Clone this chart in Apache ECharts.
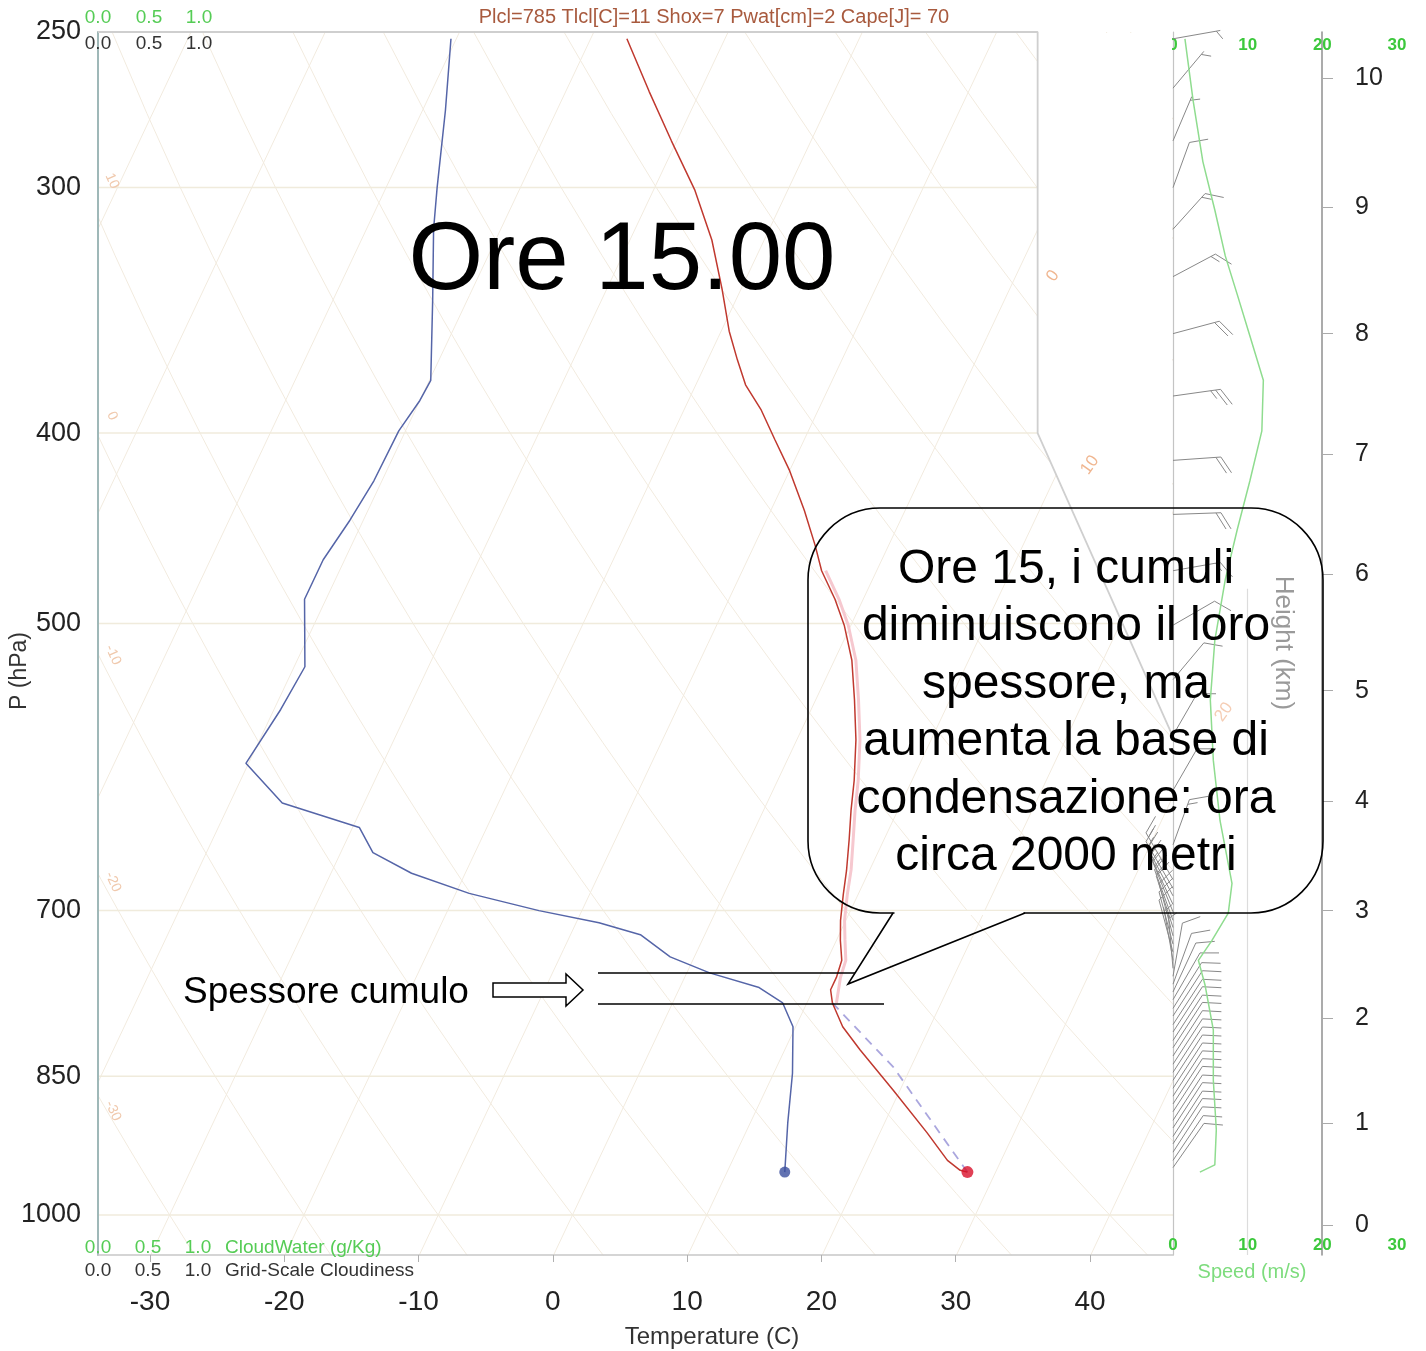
<!DOCTYPE html>
<html><head><meta charset="utf-8">
<script src="https://cdn.jsdelivr.net/npm/echarts@6/dist/echarts.min.js"></script>
<style>html,body{margin:0;padding:0;background:#fff}#c{width:1426px;height:1351px}</style>
</head><body><div id="c"></div>
<script>
// ---------------- data ----------------
const pressureTicks = [250, 300, 400, 500, 700, 850, 1000];
const tempTicks = [-30, -20, -10, 0, 10, 20, 30, 40];
const speedTicks = [0, 10, 20, 30];
const heightKm = [0, 1, 2, 3, 4, 5, 6, 7, 8, 9, 10];
const heightHPa = [1012, 898, 794, 700, 616, 541, 472, 410, 356, 307, 264];

// temperature profile (hPa, degC)
const tempP = [252, 268, 284, 301, 319, 338, 355, 367, 378, 389, 403, 418, 438, 456, 470, 486, 501, 522, 547, 573, 601, 622, 644, 668, 687, 708, 725, 742, 757, 768, 780, 802, 824, 864, 908, 938, 949, 951];
const tempC = [-37.3, -33.8, -30.4, -26.9, -23.9, -21.4, -19.4, -17.8, -16.3, -14.3, -12.2, -10.0, -7.5, -5.5, -4.1, -2.1, -0.5, 1.3, 2.9, 4.4, 5.7, 6.5, 7.4, 8.3, 8.9, 9.6, 10.3, 11.1, 11.3, 11.3, 11.9, 13.5, 15.6, 19.5, 23.5, 26.0, 27.3, 27.9];

// dew point profile
const dewP = [252, 274, 300, 315, 342, 376, 385, 399, 423, 443, 464, 486, 526, 553, 589, 617, 635, 654, 670, 686, 700, 710, 720, 739, 753, 766, 780, 802, 847, 898, 951];
const dewC = [-50.4, -48.3, -46.2, -45.0, -42.6, -39.9, -40.0, -40.5, -40.6, -41.0, -41.6, -41.6, -39.2, -39.5, -40.2, -36.1, -29.5, -27.6, -24.0, -19.0, -13.2, -8.3, -4.8, -1.8, 1.7, 5.9, 8.2, 9.8, 11.4, 12.8, 14.3];

// parcel path
const parcelDryP = [951, 841, 780];
const parcelDryC = [27.9, 18.7, 11.9];
const parcelMoistP = [780, 757, 742, 724, 708, 687, 667, 644, 622, 601, 573, 547, 522, 501, 486, 470];
const parcelMoistC = [12.2, 11.6, 11.4, 10.6, 9.9, 9.2, 8.6, 7.7, 6.8, 6.0, 4.7, 3.2, 1.6, -0.2, -1.8, -3.8];

// wind speed profile (m/s)
const speedP = [252, 271, 291, 308, 325, 340, 357, 376, 399, 423, 448, 475, 510, 547, 587, 630, 678, 702, 725, 742, 764, 805, 854, 905, 943, 951];
const speedMs = [1.6, 2.7, 4.0, 5.6, 7.0, 8.6, 10.3, 12.1, 11.9, 10.3, 8.6, 7.0, 5.6, 5.0, 5.4, 6.3, 7.9, 7.4, 5.2, 3.4, 4.3, 5.4, 5.4, 5.8, 5.6, 3.6];

// wind barbs (hPa, direction deg, speed m/s)
const barbP = [252, 267, 284, 300, 315, 333, 356, 383, 413, 440, 470, 501, 534, 570, 608, 648,
  675, 682, 688, 695, 701, 708, 714, 721, 728, 735, 742, 749, 756, 763,
  770, 777, 785, 792, 800, 807, 815, 822, 830, 838, 846, 854, 862, 870, 878, 886, 895, 903, 912, 920, 929, 938, 946];
const barbDir = [80, 40, 23, 20, 42, 62, 75, 82, 86, 88, 80, 60, 40, 30, 30, 20,
  330, 330, 332, 335, 338, 340, 342, 345, 345, 345, 350, 355, 10, 20,
  25, 30, 32, 33, 33, 33, 33, 33, 33, 33, 33, 33, 33, 33, 33, 33, 33, 33, 33, 33, 33, 34, 35];
const barbSpd = [2, 2.7, 3.5, 5, 6.5, 8.2, 10.3, 12, 11.5, 9.5, 7, 6, 5, 5, 6, 7,
  7.9, 7.9, 7.8, 7.6, 7.4, 7.0, 6.4, 5.6, 5.0, 4.3, 3.4, 3.6, 4.0, 4.3,
  5.0, 5.2, 5.4, 5.4, 5.4, 5.4, 5.4, 5.4, 5.4, 5.4, 5.5, 5.6, 5.6, 5.6, 5.7, 5.8, 5.8, 5.8, 5.7, 5.6, 5.6, 5.5, 5.0];

// diagram frame (skewed x units, hPa) and guide lines
const frameX = [-33.87, 36.1, 36.1, 46.18];
const frameP = [250, 250, 400, 571];
const isobarP = [300, 400, 500, 700, 850, 1000];
const isothermT = [-110, -100, -90, -80, -70, -60, -50, -40, -30, -20, -10, 0, 10, 20, 30, 40];
const adiabatTheta = [-40, -30, -20, -10, 0, 10, 20, 30, 40, 50, 60, 70, 80, 90, 100, 110, 120, 130, 140, 150];

// ---------------- skew-T mapping ----------------
const SKEW = 30, P_REF = 1050, P_TOP = 250, P_BOT = 1048, X_MIN = -33.87, X_MAX = 46.18;
const sx = (t, p) => t + SKEW * Math.log(P_REF / p);
const pairs = (P, T) => P.map((p, i) => [sx(T[i], p), p]);
const FONT = '"Liberation Sans", Arial, Helvetica, sans-serif';

function frameRightX(p) {
  if (p <= 400) return 36.1;
  if (p >= 571) return X_MAX;
  const f = Math.log(p / 400) / Math.log(571 / 400);
  return 36.1 + f * (X_MAX - 36.1);
}

const guideLines = [];
isothermT.forEach(t => guideLines.push({coords: [[sx(t, P_BOT), P_BOT], [sx(t, P_TOP), P_TOP]]}));
const adiabatLevels = [];
for (let p = 1050; p >= 250; p -= 25) adiabatLevels.push(p);
adiabatTheta.forEach(th => {
  guideLines.push({coords: adiabatLevels.map(p => [sx((th + 273.15) * Math.pow(p / 1000, 0.2857) - 273.15, p), p])});
});
const isobarLines = isobarP.map(p => ({coords: [[X_MIN, p], [frameRightX(p), p]]}));

const chart = echarts.init(document.getElementById('c'), null, {renderer: 'canvas'});

const txt = (x, y, text, size, color, align, extra) => Object.assign({
  type: 'text', x: x, y: y, z: 20, silent: true,
  style: {text: text, font: size + 'px ' + FONT, fill: color, align: align || 'center', textAlign: align || 'center', verticalAlign: 'middle', textVerticalAlign: 'middle'}
}, extra || {});

const option = {
  animation: false,
  backgroundColor: '#ffffff',
  textStyle: {fontFamily: FONT},
  grid: [
    {left: 98, right: 253, top: 32, bottom: 96, outerBoundsMode: 'none', containLabel: false},
    {left: 1173, right: 29, top: 32, bottom: 96, outerBoundsMode: 'none', containLabel: false}
  ],
  xAxis: [
    {type: 'value', gridIndex: 0, min: X_MIN, max: X_MAX, position: 'bottom',
      axisLine: {show: true, onZero: false, lineStyle: {color: '#c8c8c8', width: 1.5}},
      axisTick: {show: true, customValues: tempTicks, length: 7, lineStyle: {color: '#b0b0b0'}},
      axisLabel: {customValues: tempTicks, fontSize: 28, color: '#222', margin: 33, formatter: v => String(Math.round(v))},
      splitLine: {show: false},
      name: 'Temperature (C)', nameLocation: 'middle', nameGap: 70,
      nameTextStyle: {fontSize: 24, color: '#333', padding: [0, 0, 0, 153]}},
    {type: 'value', gridIndex: 1, min: 0, max: 30, position: 'bottom',
      axisLine: {show: false, onZero: false}, axisTick: {show: false},
      axisLabel: {customValues: speedTicks, inside: true, margin: 1, fontSize: 17, fontWeight: 'bold', color: '#3cc83c'},
      splitLine: {show: false},
      name: 'Speed (m/s)', nameLocation: 'middle', nameGap: 7,
      nameTextStyle: {fontSize: 20, color: '#7ddc7d', padding: [0, 66, 0, 0]}},
    {type: 'value', gridIndex: 1, min: 0, max: 30, position: 'top',
      axisLine: {show: false, onZero: false}, axisTick: {show: false},
      axisLabel: {customValues: speedTicks, inside: true, margin: 5, fontSize: 17, fontWeight: 'bold', color: '#3cc83c'},
      splitLine: {show: false}}
  ],
  yAxis: [
    {type: 'log', gridIndex: 0, inverse: true, min: P_TOP, max: P_BOT, logBase: 10, position: 'left',
      axisLine: {show: true, onZero: false, lineStyle: {color: '#9fb8b8', width: 2}},
      axisTick: {show: false},
      axisLabel: {customValues: pressureTicks, fontSize: 27, color: '#222', margin: 17, showMinLabel: true, showMaxLabel: true, formatter: v => String(Math.round(v))},
      splitLine: {show: false}},
    {type: 'log', gridIndex: 1, inverse: true, min: P_TOP, max: P_BOT, logBase: 10, position: 'left',
      axisLine: {show: true, onZero: false, lineStyle: {color: '#c4c4c4', width: 1.2}},
      axisTick: {show: false}, axisLabel: {show: false}, splitLine: {show: false}},
    {type: 'log', gridIndex: 1, inverse: true, min: P_TOP, max: P_BOT, logBase: 10, position: 'right', offset: -75,
      axisLine: {show: true, onZero: false, lineStyle: {color: '#8f8f8f', width: 1.5}},
      axisTick: {show: true, inside: false, customValues: heightHPa, length: 11, lineStyle: {color: '#aaa'}},
      axisLabel: {customValues: heightHPa, fontSize: 25, color: '#222', margin: 33,
        formatter: v => {
          let best = 0;
          heightHPa.forEach((h, i) => { if (Math.abs(h - v) < Math.abs(heightHPa[best] - v)) best = i; });
          return String(heightKm[best]);
        }},
      splitLine: {show: false}}
  ],
  series: [
    {type: 'lines', name: 'guides', coordinateSystem: 'cartesian2d', xAxisIndex: 0, yAxisIndex: 0, polyline: true, silent: true, z: 0, clip: true,
      lineStyle: {color: '#f2ebdf', width: 1, opacity: 1}, data: guideLines},
    {type: 'lines', name: 'isobars', coordinateSystem: 'cartesian2d', xAxisIndex: 0, yAxisIndex: 0, polyline: true, silent: true, z: 0, clip: true,
      lineStyle: {color: '#f0ebdc', width: 1.5, opacity: 1}, data: isobarLines},
    {type: 'line', name: 'frame', xAxisIndex: 0, yAxisIndex: 0, silent: true, z: 2, symbol: 'none',
      lineStyle: {color: '#cfcfcf', width: 1.8}, data: frameP.map((p, i) => [frameX[i], p])},
    {type: 'line', name: 'parcel moist', xAxisIndex: 0, yAxisIndex: 0, silent: true, z: 3, symbol: 'none', smooth: false,
      lineStyle: {color: '#f6c8cf', width: 3}, data: pairs(parcelMoistP, parcelMoistC)},
    {type: 'line', name: 'parcel dry', xAxisIndex: 0, yAxisIndex: 0, silent: true, z: 3, symbol: 'none',
      lineStyle: {color: '#aaa6de', width: 1.8, type: [9, 7]}, data: pairs(parcelDryP, parcelDryC)},
    {type: 'line', name: 'dew point', xAxisIndex: 0, yAxisIndex: 0, silent: true, z: 4, symbol: 'none',
      lineStyle: {color: '#5565a8', width: 1.5}, data: pairs(dewP, dewC)},
    {type: 'line', name: 'temperature', xAxisIndex: 0, yAxisIndex: 0, silent: true, z: 4, symbol: 'none',
      lineStyle: {color: '#c0392f', width: 1.5}, data: pairs(tempP, tempC)},
    {type: 'scatter', name: 'surface T', xAxisIndex: 0, yAxisIndex: 0, z: 5, symbolSize: 12, itemStyle: {color: '#d8102a'},
      data: [[sx(tempC[tempC.length - 1], tempP[tempP.length - 1]), tempP[tempP.length - 1]]]},
    {type: 'scatter', name: 'surface Td', xAxisIndex: 0, yAxisIndex: 0, z: 5, symbolSize: 11, itemStyle: {color: '#3b4f9e'},
      data: [[sx(dewC[dewC.length - 1], dewP[dewP.length - 1]), dewP[dewP.length - 1]]]},
    {type: 'lines', name: 'speed10', coordinateSystem: 'cartesian2d', xAxisIndex: 1, yAxisIndex: 1, silent: true, z: 1,
      lineStyle: {color: '#dcdcdc', width: 1.2, opacity: 1}, data: [{coords: [[10, 480], [10, P_BOT]]}]},
    {type: 'line', name: 'wind speed', xAxisIndex: 1, yAxisIndex: 1, silent: true, z: 3, symbol: 'none',
      lineStyle: {color: '#8fdc8f', width: 1.5}, data: speedP.map((p, i) => [speedMs[i], p])},
    {type: 'custom', name: 'barbs', xAxisIndex: 1, yAxisIndex: 1, silent: true, z: 3, clip: false,
      encode: {x: 0, y: 1},
      data: barbP.map((p, i) => [barbSpd[i], p, barbDir[i]]),
      renderItem: function (params, api) {
        const spd = api.value(0), p = api.value(1), dir = api.value(2);
        const base = api.coord([0, p]);
        const L = p > 660 ? 54 : 48, r = dir * Math.PI / 180;
        const ux = Math.sin(r), uy = -Math.cos(r);
        const tip = [base[0] + ux * L, base[1] + uy * L];
        const fr = (dir + 60) * Math.PI / 180, fx = Math.sin(fr), fy = -Math.cos(fr);
        const st = {stroke: '#888', lineWidth: 1};
        const children = [{type: 'line', shape: {x1: base[0], y1: base[1], x2: tip[0], y2: tip[1]}, style: st}];
        let kt = Math.round(spd * 1.944 / 5) * 5, d = 0;
        while (kt >= 10) {
          const a = [tip[0] - ux * d, tip[1] - uy * d];
          children.push({type: 'line', shape: {x1: a[0], y1: a[1], x2: a[0] + fx * 19, y2: a[1] + fy * 19}, style: st});
          d += 5; kt -= 10;
        }
        if (kt >= 5) {
          if (d === 0) d = 4;
          const a = [tip[0] - ux * d, tip[1] - uy * d];
          children.push({type: 'line', shape: {x1: a[0], y1: a[1], x2: a[0] + fx * 10, y2: a[1] + fy * 10}, style: st});
        }
        return {type: 'group', children: children};
      }}
  ],
  graphic: {elements: [
    {type: 'polygon', z: 1, silent: true, shape: {points: [[1038, 33], [1172, 33], [1172, 737], [1038, 433]]}, style: {fill: '#ffffff'}},
    // faint guide labels
    txt(112, 181, '10', 14, '#f0c9ad', 'center', {rotation: -1.15}),
    txt(112, 416, '0', 14, '#f0c9ad', 'center', {rotation: -1.15}),
    txt(113, 655, '-10', 14, '#f0c9ad', 'center', {rotation: -1.15}),
    txt(113, 882, '-20', 14, '#f0c9ad', 'center', {rotation: -1.15}),
    txt(113, 1111, '-30', 14, '#f0c9ad', 'center', {rotation: -1.15}),
    txt(1053, 276, '0', 17, '#f0b690', 'center', {rotation: 0.95}),
    txt(1090, 465, '10', 17, '#f0b690', 'center', {rotation: 0.95}),
    txt(1224, 712, '20', 17, '#f5cdb4', 'center', {rotation: 0.95}),
    // pressure axis title
    txt(20, 671, 'P (hPa)', 23, '#333', 'center', {rotation: Math.PI / 2}),
    // header diagnostics
    txt(714, 17, 'Plcl=785 Tlcl[C]=11 Shox=7 Pwat[cm]=2 Cape[J]= 70', 20, '#a85a3e'),
    // cloud scales
    txt(98, 18, '0.0', 19, '#55cc55'), txt(149, 18, '0.5', 19, '#55cc55'), txt(199, 18, '1.0', 19, '#55cc55'),
    txt(98, 44, '0.0', 19, '#333'), txt(149, 44, '0.5', 19, '#333'), txt(199, 44, '1.0', 19, '#333'),
    txt(98, 1248, '0.0', 19, '#55cc55'), txt(148, 1248, '0.5', 19, '#55cc55'), txt(198, 1248, '1.0', 19, '#55cc55'),
    txt(225, 1248, 'CloudWater (g/Kg)', 19, '#55cc55', 'left'),
    txt(98, 1271, '0.0', 19, '#333'), txt(148, 1271, '0.5', 19, '#333'), txt(198, 1271, '1.0', 19, '#333'),
    txt(225, 1271, 'Grid-Scale Cloudiness', 19, '#333', 'left'),
    txt(1283, 643, 'Height (km)', 26, '#9a9a9a', 'center', {rotation: -Math.PI / 2}),
    // annotations
    txt(622, 263, 'Ore 15.00', 96, '#000'),
    {type: 'rect', z: 20, silent: true, shape: {x: 808, y: 508, width: 515, height: 405, r: 72},
      style: {fill: null, stroke: '#000', lineWidth: 1.6}},
    {type: 'line', z: 21, silent: true, shape: {x1: 894.5, y1: 913, x2: 1023.5, y2: 913}, style: {stroke: '#fff', lineWidth: 4}},
    {type: 'polyline', z: 21, silent: true, shape: {points: [[893, 913], [848, 984], [1025, 913]]},
      style: {fill: null, stroke: '#000', lineWidth: 1.6}},
    txt(1066, 570, 'Ore 15, i cumuli', 48, '#000'),
    txt(1066, 627, 'diminuiscono il loro', 48, '#000'),
    txt(1066, 685, 'spessore, ma', 48, '#000'),
    txt(1066, 742, 'aumenta la base di', 48, '#000'),
    txt(1066, 800, 'condensazione: ora', 48, '#000'),
    txt(1066, 857, 'circa 2000 metri', 48, '#000'),
    txt(326, 993, 'Spessore cumulo', 37, '#000'),
    {type: 'polygon', z: 20, silent: true,
      shape: {points: [[493, 983], [566, 983], [566, 974], [583, 990], [566, 1006], [566, 997], [493, 997]]},
      style: {fill: '#fff', stroke: '#000', lineWidth: 1.5}},
    {type: 'line', z: 20, silent: true, shape: {x1: 598, y1: 973, x2: 855, y2: 973}, style: {stroke: '#000', lineWidth: 1.6}},
    {type: 'line', z: 20, silent: true, shape: {x1: 598, y1: 1004, x2: 884, y2: 1004}, style: {stroke: '#000', lineWidth: 1.6}}
  ]}
};
chart.setOption(option);
</script>
</body></html>
